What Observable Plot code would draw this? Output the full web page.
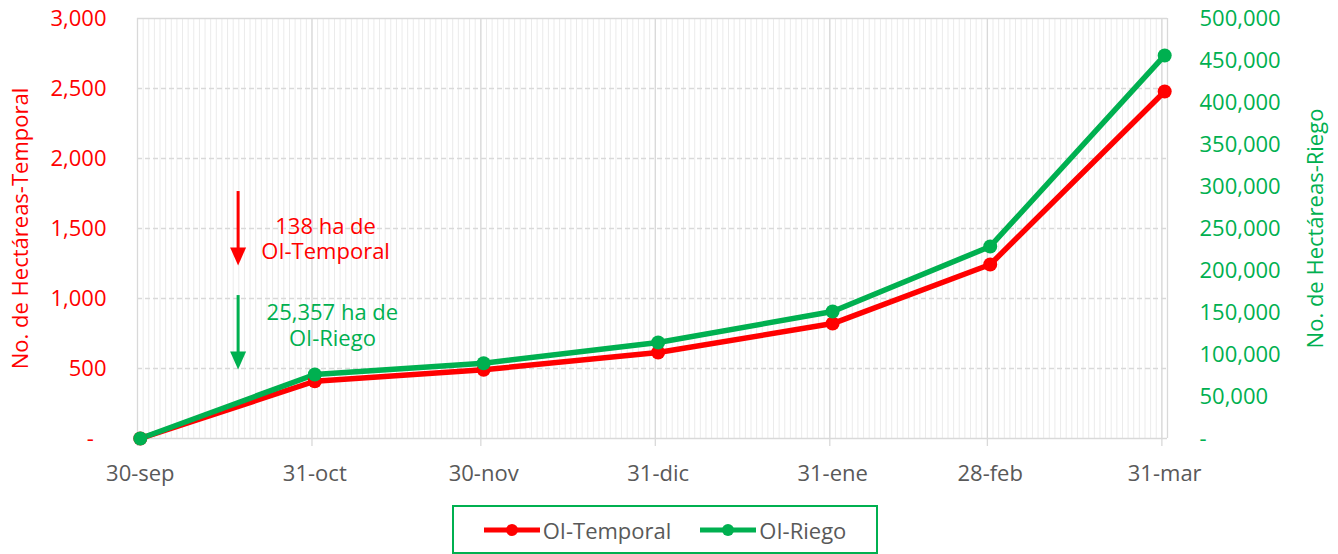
<!DOCTYPE html>
<html>
<head>
<meta charset="utf-8">
<script src="https://cdn.jsdelivr.net/npm/d3@7"></script>
<script src="https://cdn.jsdelivr.net/npm/@observablehq/plot@0.6"></script>
<style>
  body { margin: 0; background: #fff; font-family: "Open Sans", sans-serif; }
  #wrap { position: relative; width: 1338px; height: 554px; overflow: hidden; background: #fff; }
  #legend {
    position: absolute; left: 452px; top: 505px; width: 426px; height: 49px;
    box-sizing: border-box; border: 2px solid #00b050;
    display: flex; align-items: center; justify-content: center;
    font-family: "Open Sans", sans-serif; font-size: 22px; color: #595959;
  }
  #legend .item { display: flex; align-items: center; }
  #legend .item svg { display: block; margin-right: 3px; }
  #legend .item + .item { margin-left: 29px; }
</style>
</head>
<body>
<div id="wrap">
  <div id="chart"></div>
  <div id="legend"></div>
</div>
<script>
// ---- data ----
const fechas = ["2022-09-30", "2022-10-31", "2022-11-30", "2022-12-31", "2023-01-31", "2023-02-28", "2023-03-31"];
const etiquetasX = ["30-sep", "31-oct", "30-nov", "31-dic", "31-ene", "28-feb", "31-mar"];
const temporal = [0, 409, 491, 614, 821, 1243, 2479];
const riego = [0, 76200, 89600, 114300, 151200, 228600, 456000];
const ticksTemporal = [0, 500, 1000, 1500, 2000, 2500, 3000];
const ticksRiego = [0, 50000, 100000, 150000, 200000, 250000, 300000, 350000, 400000, 450000, 500000];
const maxTemporal = 3000;
const maxRiego = 500000;
const series = ["OI-Temporal", "OI-Riego"];
const colores = ["#ff0000", "#00b050"];
const tituloIzq = "No. de Hectáreas-Temporal";
const tituloDer = "No. de Hectáreas-Riego";
// annotations (data coordinates: date, left-axis value)
const flechaFecha = "2022-10-17T21:00:00Z";
const flechaDesde = [1764, 1021];
const flechaHasta = [1236, 493];
const notaFechas = ["2022-11-02T10:00:00Z", "2022-11-03T15:00:00Z"];
const notaValores = [1432, 811];
const notaTextos = ["138 ha de\nOI-Temporal", "25,357 ha de\nOI-Riego"];
const finDominio = "2023-04-01";

// ---- derived tables ----
const dia = d => new Date(d + "T00:00:00Z");
const mediodia = d => new Date(dia(d).getTime() + 12 * 3600 * 1000);
const escalaRiego = maxTemporal / maxRiego;
const datos = [];
fechas.forEach((f, i) => {
  datos.push({serie: series[0], fecha: mediodia(f), valor: temporal[i]});
});
fechas.forEach((f, i) => {
  datos.push({serie: series[1], fecha: mediodia(f), valor: riego[i] * escalaRiego});
});
const etiquetaPorTiempo = new Map(fechas.map((f, i) => [mediodia(f).getTime(), etiquetasX[i]]));
const dias = d3.utcDay.range(dia(fechas[0]), dia(finDominio));
const mayores = [...fechas.map(dia), dia(finDominio)];
const flechas = flechaDesde.map((v, i) => ({x: new Date(flechaFecha), y1: v, y2: flechaHasta[i], color: colores[i]}));
const notas = notaTextos.map((t, i) => ({x: new Date(notaFechas[i]), y: notaValores[i], texto: t, color: colores[i]}));
const fmt = d3.format(",");

const puntaFlecha = {
  draw(context) {
    context.moveTo(-8, -18);
    context.lineTo(8, -18);
    context.lineTo(0, 0);
    context.closePath();
  }
};

const chart = Plot.plot({
  width: 1338,
  height: 498,
  marginLeft: 137,
  marginRight: 171,
  marginTop: 18,
  marginBottom: 60,
  style: {fontFamily: "'Open Sans', sans-serif", fontSize: "22px", background: "#fff", overflow: "visible"},
  x: {type: "utc", domain: [dia(fechas[0]), dia(finDominio)]},
  y: {domain: [0, maxTemporal]},
  marks: [
    Plot.gridX(dias, {stroke: "#ebebeb", strokeOpacity: 1, strokeWidth: 1}),
    Plot.gridY(ticksTemporal.slice(1, -1), {stroke: "#d9d9d9", strokeOpacity: 1, strokeWidth: 1.3, strokeDasharray: "5,3"}),
    Plot.gridX(mayores, {stroke: "#d9d9d9", strokeOpacity: 1, strokeWidth: 1.3}),
    Plot.ruleY([0, maxTemporal], {stroke: "#d9d9d9", strokeWidth: 1.3}),
    Plot.axisX(fechas.map(dia), {tickSize: 8, tickFormat: () => "", stroke: "#d9d9d9", strokeWidth: 1.3}),
    Plot.axisX(fechas.map(mediodia), {tickSize: 0, tickPadding: 27, tickFormat: d => etiquetaPorTiempo.get(d.getTime()), color: "#595959", fontSize: 22}),
    Plot.axisY(ticksTemporal, {anchor: "left", tickSize: 0, tickPadding: 31, color: "#ff0000", fontSize: 22, label: null,
      tickFormat: d => d === 0 ? "-\u2007" : fmt(d)}),
    Plot.axisY(ticksRiego.map(v => v * escalaRiego), {anchor: "right", tickSize: 0, tickPadding: 32, color: "#00b050", fontSize: 22, label: null,
      tickFormat: d => { const v = Math.round(d / escalaRiego); return v === 0 ? "-" : fmt(v); }}),
    Plot.text([tituloIzq], {frameAnchor: "left", dx: -117, rotate: -90, fill: colores[0], fontSize: 22, textAnchor: "middle"}),
    Plot.text([tituloDer], {frameAnchor: "right", dx: 148, rotate: -90, fill: colores[1], fontSize: 22, textAnchor: "middle"}),
    Plot.line(datos, {x: "fecha", y: "valor", z: "serie", stroke: "serie", strokeWidth: 5.5, curve: "linear"}),
    Plot.dot(datos, {x: "fecha", y: "valor", fill: "serie", r: 7}),
    Plot.ruleX(flechas, {x: "x", y1: "y1", y2: "y2", stroke: "color", strokeWidth: 3, insetBottom: 12}),
    Plot.dot(flechas, {x: "x", y: "y2", fill: "color", symbol: puntaFlecha, r: 6}),
    Plot.text(notas, {x: "x", y: "y", text: "texto", fill: "color", fontSize: 22, lineHeight: 1.14, textAnchor: "middle"})
  ],
  color: {domain: series, range: colores}
});
document.getElementById("chart").appendChild(chart);

// legend
const legend = document.getElementById("legend");
series.forEach((s, i) => {
  const item = document.createElement("div");
  item.className = "item";
  item.innerHTML = `<svg width="56" height="14"><line x1="0" y1="7" x2="56" y2="7" stroke="${colores[i]}" stroke-width="5"/><circle cx="28" cy="7" r="6" fill="${colores[i]}"/></svg><span>${s}</span>`;
  legend.appendChild(item);
});
</script>
</body>
</html>
